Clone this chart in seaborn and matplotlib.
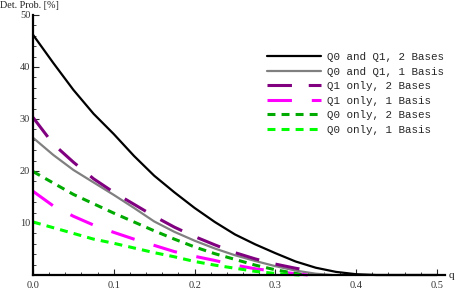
import matplotlib
matplotlib.use('Agg')
import matplotlib.pyplot as plt
import seaborn as sns
from matplotlib.ticker import MultipleLocator

# values
q_black = [0.0, 0.025, 0.05, 0.075, 0.1, 0.125, 0.15, 0.175, 0.2, 0.225, 0.25,
           0.275, 0.3, 0.325, 0.35, 0.375, 0.4, 0.425, 0.45, 0.5]
v_black = [46.2, 40.8, 35.6, 31.0, 27.1, 22.9, 19.1, 15.9, 12.9, 10.2, 7.8,
           5.9, 4.2, 2.6, 1.4, 0.6, 0.15, 0.0, 0.0, 0.0]

q_gray = [0.0, 0.025, 0.05, 0.075, 0.1, 0.125, 0.15, 0.175, 0.2, 0.225, 0.25,
          0.275, 0.3, 0.325, 0.35, 0.37]
v_gray = [26.4, 23.1, 20.2, 17.8, 15.4, 12.9, 10.3, 8.3, 6.6, 5.1, 3.8,
          2.7, 1.7, 0.85, 0.25, 0.0]

q_purple = [0.0, 0.025, 0.05, 0.075, 0.1, 0.125, 0.15, 0.175, 0.2, 0.225, 0.25,
            0.275, 0.3, 0.325, 0.34]
v_purple = [30.3, 25.2, 21.7, 18.5, 15.9, 13.6, 11.3, 9.2, 7.4, 5.8, 4.3,
            3.1, 2.1, 1.3, 0.9]

q_magenta = [0.0, 0.025, 0.05, 0.075, 0.1, 0.125, 0.15, 0.175, 0.2, 0.225, 0.25,
             0.275, 0.3, 0.325, 0.34]
v_magenta = [16.1, 13.3, 11.3, 9.6, 8.2, 6.9, 5.7, 4.5, 3.6, 2.8, 1.9,
             1.2, 0.7, 0.25, 0.0]

q_dgreen = [0.0, 0.025, 0.05, 0.075, 0.1, 0.125, 0.15, 0.175, 0.2, 0.225, 0.25,
            0.275, 0.3, 0.325, 0.335]
v_dgreen = [19.9, 17.7, 15.5, 13.7, 11.9, 10.2, 8.5, 6.9, 5.4, 4.1, 3.0,
            1.9, 1.0, 0.3, 0.0]

q_lgreen = [0.0, 0.025, 0.05, 0.075, 0.1, 0.125, 0.15, 0.175, 0.2, 0.225, 0.25,
            0.275, 0.3, 0.325, 0.33]
v_lgreen = [10.2, 9.1, 8.0, 6.9, 6.1, 5.2, 4.3, 3.5, 2.6, 1.9, 1.3,
            0.7, 0.3, 0.05, 0.0]

labels = ['Q0 and Q1, 2 Bases', 'Q0 and Q1, 1 Basis', 'Q1 only, 2 Bases',
          'Q1 only, 1 Basis', 'Q0 only, 2 Bases', 'Q0 only, 1 Basis']

sns.set_style('white')
plt.rcParams['font.family'] = ['Liberation Serif', 'DejaVu Serif']

fig = plt.figure(figsize=(4.57, 2.91), dpi=100)
ax = fig.add_axes([33 / 457, 16 / 291, 412 / 457, 260 / 291])

series = [
    (q_black, v_black, 'black', '-'),
    (q_gray, v_gray, '#808080', '-'),
    (q_purple, v_purple, '#800080', (0, (8, 5.5))),
    (q_magenta, v_magenta, '#ff00ff', (0, (8, 6.5))),
    (q_dgreen, v_dgreen, '#00aa00', (0, (2.6, 2.0))),
    (q_lgreen, v_lgreen, '#00ff00', (0, (2.6, 2.0))),
]
for (x, y, c, ls), lab in zip(series, labels):
    lw = 1.6 if ls == '-' else 2.2
    sns.lineplot(x=x, y=y, ax=ax, color=c, linestyle=ls, linewidth=lw,
                 label=lab, sort=False, clip_on=False)

ax.set_xlim(0, 0.51)
ax.set_ylim(0, 50)
ax.xaxis.set_minor_locator(MultipleLocator(0.02))
ax.yaxis.set_minor_locator(MultipleLocator(2))
ax.set_xticks([0.0, 0.1, 0.2, 0.3, 0.4, 0.5])
ax.set_xticklabels(['0.0', '0.1', '0.2', '0.3', '0.4', '0.5'])
ax.set_yticks([10, 20, 30, 40, 50])
ax.tick_params(which='major', direction='in', length=4, width=0.8, labelsize=7.5,
               labelcolor='#333333')
ax.tick_params(axis='x', pad=4)
ax.tick_params(axis='y', pad=2)
ax.tick_params(which='minor', direction='in', length=2, width=0.6)
ax.tick_params(axis='both', which='both', bottom=True, left=True)

for s in ['top', 'right']:
    ax.spines[s].set_visible(False)
for s in ['left', 'bottom']:
    ax.spines[s].set_linewidth(1.6)
    ax.spines[s].set_color('black')

fig.text(0.0, 1 - 6 / 291, 'Det. Prob. [%]', ha='left', va='center',
         fontsize=7.3, color='#222222')
fig.text(449 / 457, 1 - 275 / 291, 'q', ha='left', va='center',
         fontsize=8, color='#222222')

ax.legend(loc='upper left', bbox_to_anchor=(234 / 412, 1 - 37 / 260),
          frameon=False, prop={'family': 'Liberation Mono', 'size': 7.8},
          handlelength=5.0, handletextpad=0.5, labelspacing=0.42,
          borderaxespad=0, borderpad=0)

fig.savefig('out.png', dpi=100)
